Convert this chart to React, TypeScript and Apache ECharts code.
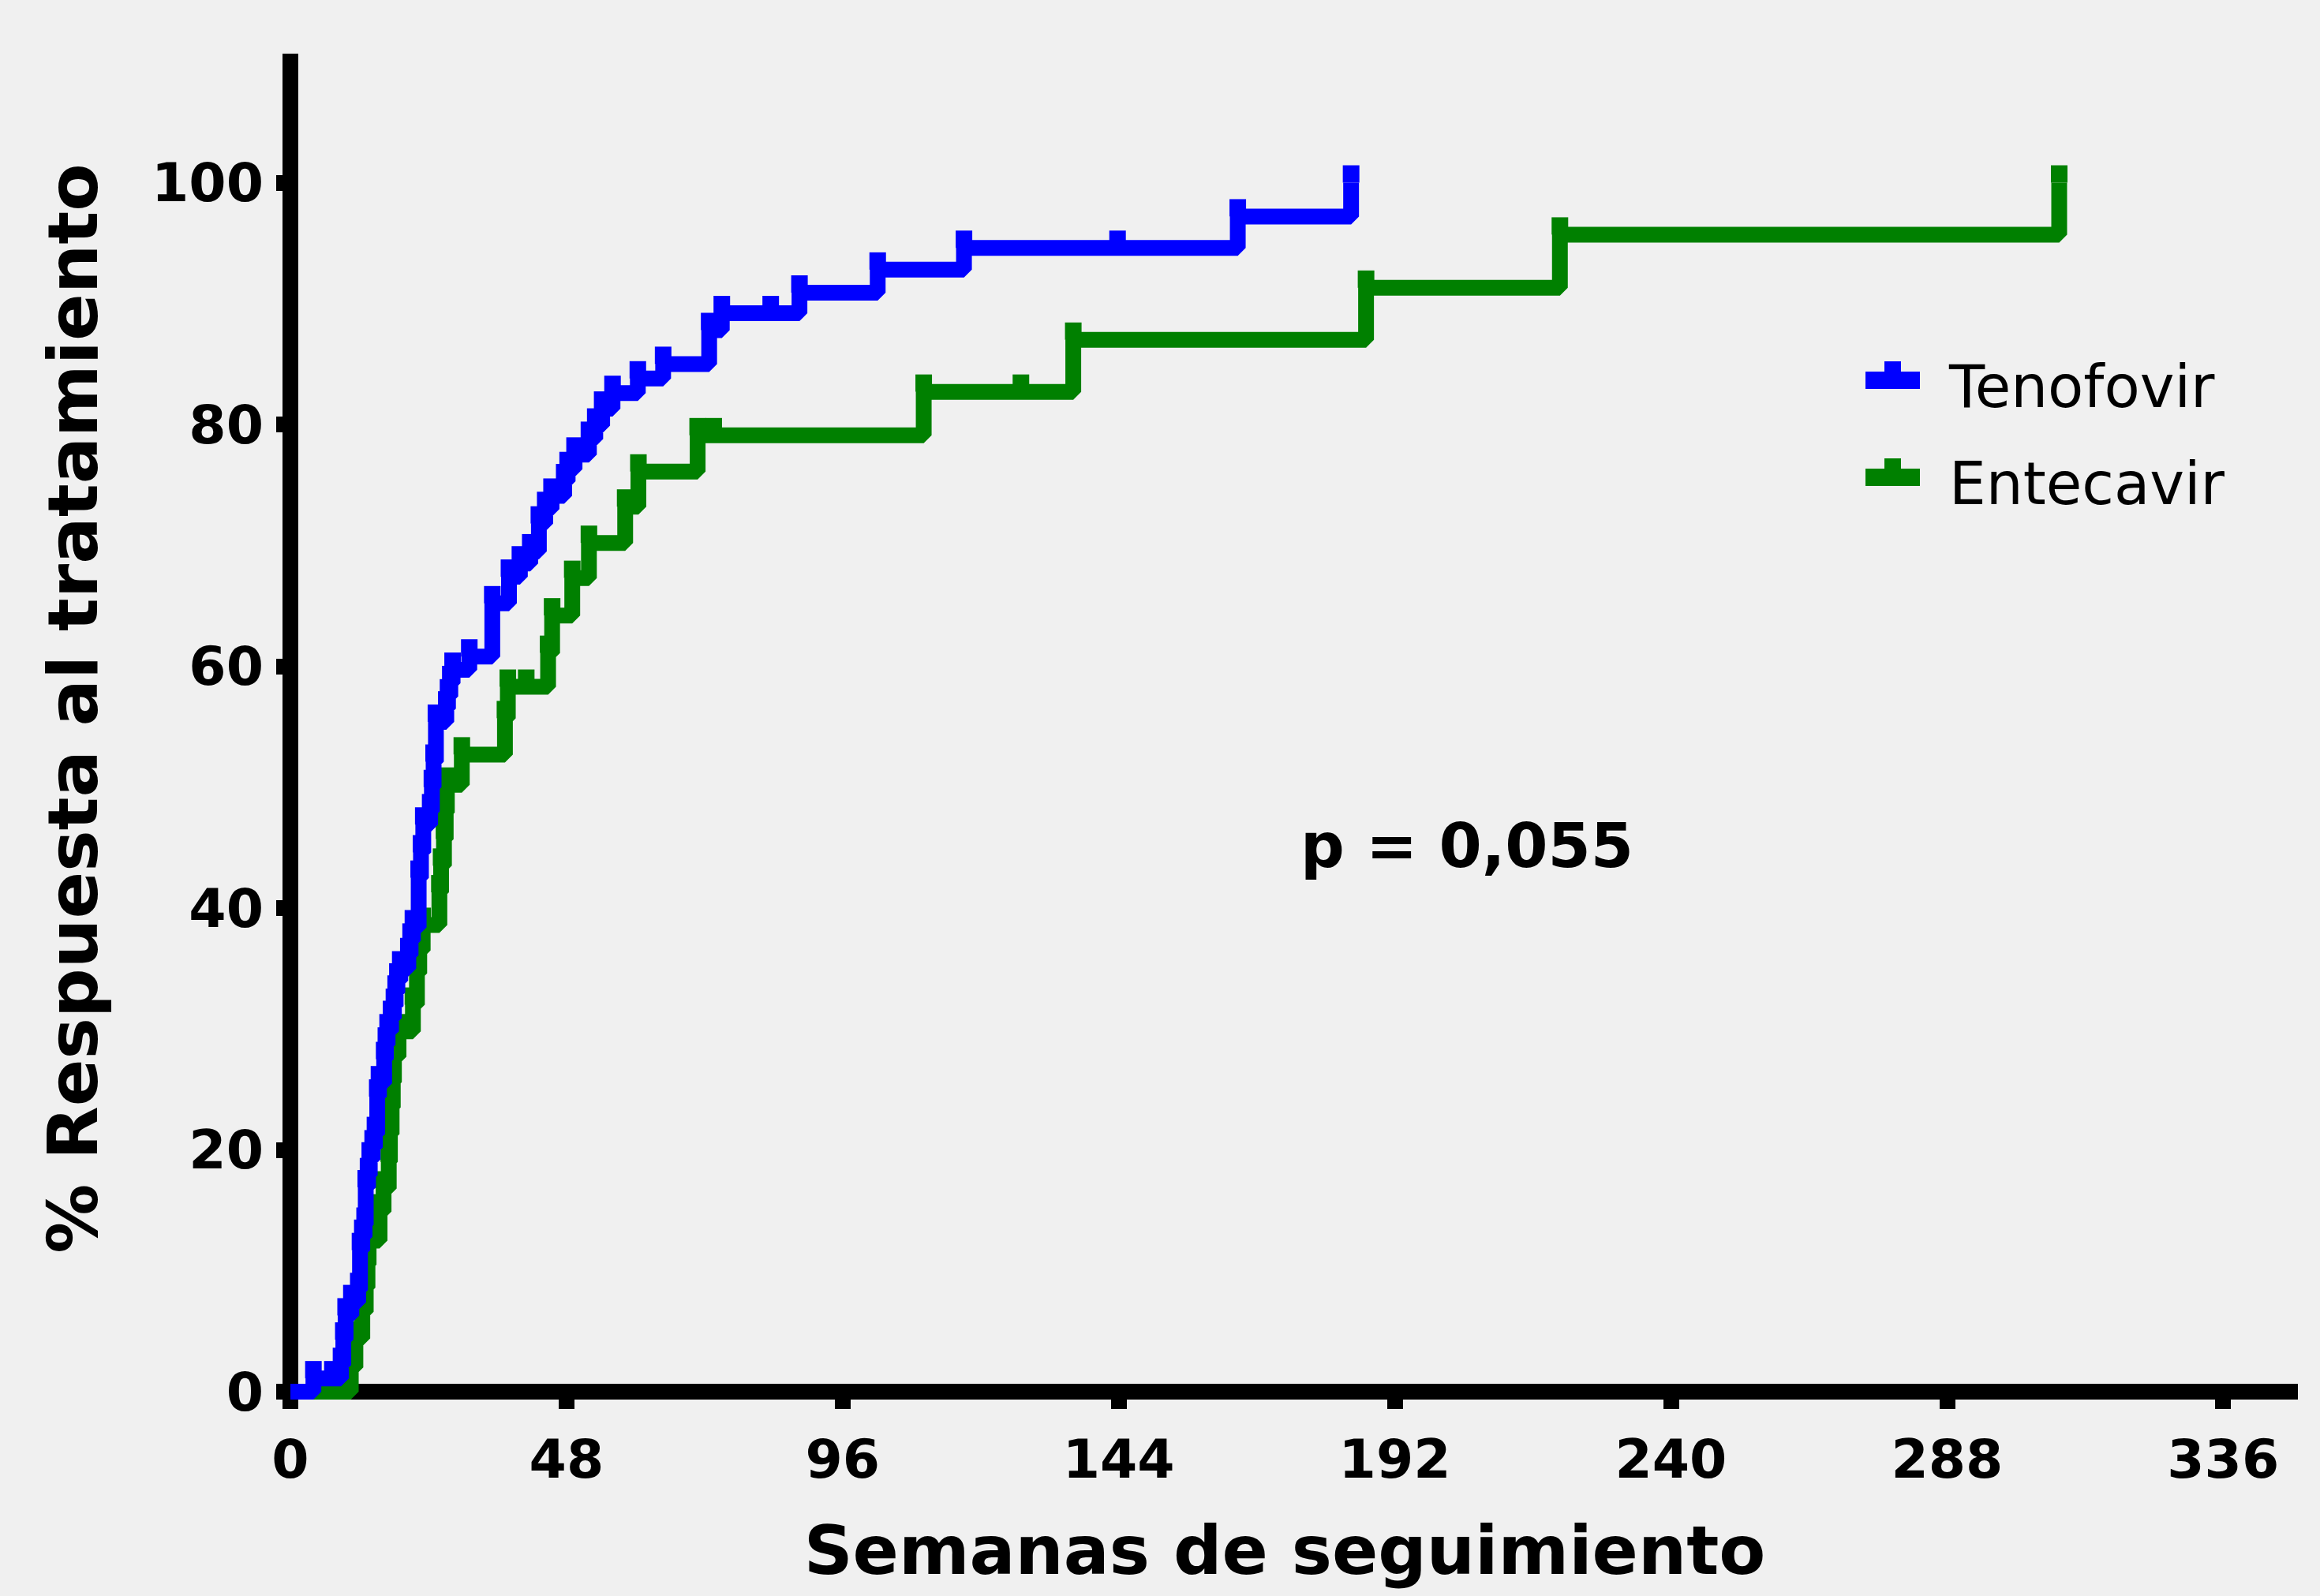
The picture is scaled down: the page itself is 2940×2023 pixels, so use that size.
import { useEffect, useRef } from "react";
import * as echarts from "echarts";

// Tenofovir: step times (weeks) and cumulative response (%) after each step
const tenofovirWeeks = [0, 4.0, 8.8, 9.2, 9.6, 10.6, 11.8, 12.1, 12.5, 12.9, 13.1, 13.5, 13.8, 14.3, 14.7, 15.1, 15.4, 16.3, 16.6, 16.9, 17.5, 18.0, 18.3, 18.6, 19.1, 20.5, 20.9, 21.3, 22.3, 22.7, 23.1, 24.3, 24.6, 24.9, 25.3, 27.1, 27.4, 27.8, 28.2, 31.1, 35.1, 38.0, 39.9, 41.7, 43.2, 44.3, 45.4, 47.6, 48.2, 49.4, 51.9, 53.0, 54.2, 56.0, 60.4, 64.8, 72.8, 75.0, 88.5, 102.1, 117.1, 164.7, 184.4];
const tenofovirPct = [0, 1.1, 2.2, 4.3, 6.3, 7.4, 8.4, 11.7, 12.8, 13.8, 16.9, 17.9, 19.2, 20.2, 21.3, 24.4, 25.5, 27.5, 28.7, 29.8, 30.9, 31.9, 33.0, 34.0, 35.0, 36.1, 37.3, 38.4, 42.5, 44.6, 46.9, 48.0, 50.0, 52.1, 55.4, 56.5, 57.5, 58.6, 59.7, 60.8, 65.2, 67.4, 68.5, 69.5, 71.8, 73.0, 74.1, 75.3, 76.3, 77.5, 78.8, 79.9, 81.3, 82.6, 83.8, 85.0, 87.8, 89.2, 90.9, 92.8, 94.6, 97.2, 100];
const tenofovirCensorWeeks = [7.3, 83.5, 143.8];
const tenofovirCensorPct = [1.1, 89.2, 94.6];

// Entecavir
const entecavirWeeks = [0, 10.5, 11.3, 12.5, 13.1, 13.4, 13.6, 15.5, 16.2, 17.1, 17.3, 17.6, 17.8, 18.0, 18.8, 21.3, 22.0, 22.4, 23.0, 25.9, 26.2, 26.7, 27.0, 27.2, 29.8, 37.3, 37.8, 44.8, 45.5, 49.0, 51.9, 58.2, 60.5, 70.8, 110.1, 136.1, 187.0, 220.7, 307.5];
const entecavirPct = [0, 2.0, 4.4, 6.6, 8.6, 10.5, 12.5, 14.9, 16.8, 19.0, 21.3, 23.5, 25.6, 27.7, 29.8, 32.0, 34.6, 36.5, 38.6, 41.3, 43.5, 45.7, 47.9, 50.2, 52.7, 55.7, 58.3, 61.1, 64.2, 67.3, 70.2, 73.2, 76.1, 79.1, 82.7, 87.0, 91.3, 95.7, 100];
const entecavirCensorWeeks = [41.0, 73.6, 127.0];
const entecavirCensorPct = [58.3, 79.1, 82.7];

const xTicks = [0, 48, 96, 144, 192, 240, 288, 336];
const yTicks = [0, 20, 40, 60, 80, 100];

const legendNames = ["Tenofovir", "Entecavir"];

const zip = (a: number[], b: number[]) => a.map((v, i) => [v, b[i]]);

const BLUE = "#0000ff";
const GREEN = "#008000";
const FONT = "'DejaVu Sans', 'Liberation Sans', sans-serif";

export default function App() {
  const ref = useRef<HTMLDivElement>(null);

  useEffect(() => {
    if (!ref.current) return;
    const chart = echarts.init(ref.current, null, { renderer: "svg" });

    const tenLine = zip(tenofovirWeeks, tenofovirPct);
    const entLine = zip(entecavirWeeks, entecavirPct);
    const tenTicks = zip(tenofovirWeeks.slice(1), tenofovirPct.slice(1)).concat(
      zip(tenofovirCensorWeeks, tenofovirCensorPct)
    );
    const entTicks = zip(entecavirWeeks.slice(1), entecavirPct.slice(1)).concat(
      zip(entecavirCensorWeeks, entecavirCensorPct)
    );

    const labelStyle = {
      color: "#000",
      fontFamily: FONT,
      fontWeight: "bold",
      fontSize: 68,
    };

    const legendColors = [BLUE, GREEN];
    const legendGraphics = legendNames.map((name, i) => {
      const top = 458 + i * 123;
      return {
        type: "group",
        children: [
          { type: "rect", shape: { x: 2388, y: top, width: 21, height: 14 }, style: { fill: legendColors[i] } },
          { type: "rect", shape: { x: 2364, y: top + 13, width: 69, height: 22 }, style: { fill: legendColors[i] } },
          {
            type: "text",
            x: 2470,
            y: top + 32,
            style: {
              text: name,
              fill: "#000",
              fontFamily: FONT,
              fontSize: 74,
              align: "left",
              verticalAlign: "middle",
            },
          },
        ],
      };
    });

    chart.setOption({
      animation: false,
      backgroundColor: "#f0f0f0",
      grid: { left: 368, right: 28, top: 68, bottom: 259, containLabel: false },
      xAxis: {
        type: "value",
        min: 0,
        max: 349,
        interval: 48,
        splitLine: { show: false },
        axisLine: { show: true, onZero: false, lineStyle: { color: "#000", width: 20, cap: "butt" } },
        axisTick: { show: true, customValues: xTicks, length: 22, lineStyle: { color: "#000", width: 20, cap: "butt" } },
        axisLabel: { ...labelStyle, customValues: xTicks, margin: 51 },
      },
      yAxis: {
        type: "value",
        min: 0,
        max: 110.67,
        interval: 20,
        splitLine: { show: false },
        axisLine: { show: true, onZero: false, lineStyle: { color: "#000", width: 20, cap: "butt" } },
        axisTick: { show: true, customValues: yTicks, length: 18, lineStyle: { color: "#000", width: 20, cap: "butt" } },
        axisLabel: { ...labelStyle, customValues: yTicks, margin: 34 },
      },
      series: [
        {
          name: "Entecavir",
          type: "scatter",
          data: entTicks,
          symbol: "rect",
          symbolSize: [21, 22],
          symbolOffset: [0, -11],
          itemStyle: { color: GREEN, opacity: 1 },
          silent: true,
          z: 3,
        },
        {
          name: "Tenofovir",
          type: "scatter",
          data: tenTicks,
          symbol: "rect",
          symbolSize: [21, 22],
          symbolOffset: [0, -11],
          itemStyle: { color: BLUE, opacity: 1 },
          silent: true,
          z: 5,
        },
        {
          name: "Entecavir",
          type: "line",
          step: "end",
          data: entLine,
          showSymbol: false,
          itemStyle: { color: GREEN },
          lineStyle: { color: GREEN, width: 20, cap: "butt" },
          silent: true,
          z: 2,
        },
        {
          name: "Tenofovir",
          type: "line",
          step: "end",
          data: tenLine,
          showSymbol: false,
          itemStyle: { color: BLUE },
          lineStyle: { color: BLUE, width: 20, cap: "butt" },
          silent: true,
          z: 4,
        },
      ],
      graphic: [
        ...legendGraphics,
        {
          type: "text",
          x: 1628,
          y: 1965,
          style: {
            text: "Semanas de seguimiento",
            fill: "#000",
            fontFamily: FONT,
            fontWeight: "bold",
            fontSize: 86,
            align: "center",
            verticalAlign: "middle",
          },
        },
        {
          type: "text",
          x: 92,
          y: 898,
          rotation: Math.PI / 2,
          style: {
            text: "% Respuesta al tratamiento",
            fill: "#000",
            fontFamily: FONT,
            fontWeight: "bold",
            fontSize: 88,
            align: "center",
            verticalAlign: "middle",
          },
        },
        {
          type: "text",
          x: 1859,
          y: 1072,
          style: {
            text: "p = 0,055",
            fill: "#000",
            fontFamily: FONT,
            fontWeight: "bold",
            fontSize: 78,
            align: "center",
            verticalAlign: "middle",
          },
        },
      ],
    });

    return () => chart.dispose();
  }, []);

  return (
    <div
      ref={ref}
      style={{ position: "fixed", left: 0, top: 0, width: 2940, height: 2023 }}
    />
  );
}
